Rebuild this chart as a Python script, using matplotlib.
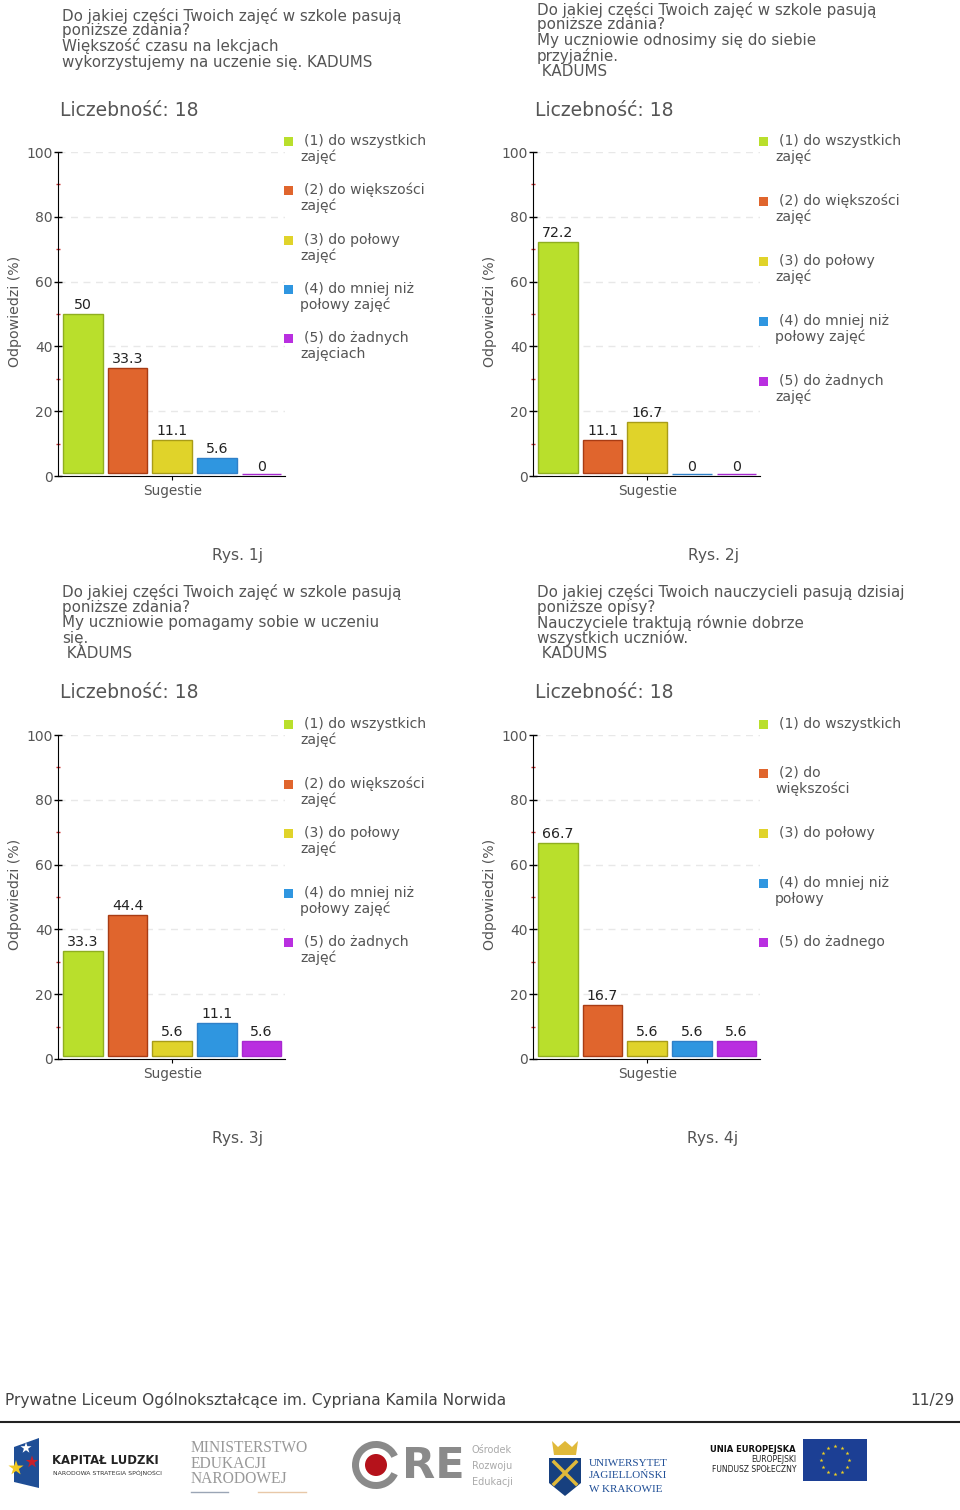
import math
import matplotlib
matplotlib.use('Agg')
import matplotlib.pyplot as plt
from matplotlib.patches import Rectangle, Circle, Polygon, Wedge

W, H = 960, 1510

categories = ['(1)', '(2)', '(3)', '(4)', '(5)']
values_1 = [50, 33.3, 11.1, 5.6, 0]
values_2 = [72.2, 11.1, 16.7, 0, 0]
values_3 = [33.3, 44.4, 5.6, 11.1, 5.6]
values_4 = [66.7, 16.7, 5.6, 5.6, 5.6]
labels_1 = ['50', '33.3', '11.1', '5.6', '0']
labels_2 = ['72.2', '11.1', '16.7', '0', '0']
labels_3 = ['33.3', '44.4', '5.6', '11.1', '5.6']
labels_4 = ['66.7', '16.7', '5.6', '5.6', '5.6']

titles_1 = ['Do jakiej części Twoich zajęć w szkole pasują', 'poniższe zdania?',
            'Większość czasu na lekcjach', 'wykorzystujemy na uczenie się. KADUMS']
titles_2 = ['Do jakiej części Twoich zajęć w szkole pasują', 'poniższe zdania?',
            'My uczniowie odnosimy się do siebie', 'przyjaźnie.', ' KADUMS']
titles_3 = ['Do jakiej części Twoich zajęć w szkole pasują', 'poniższe zdania?',
            'My uczniowie pomagamy sobie w uczeniu', 'się.', ' KADUMS']
titles_4 = ['Do jakiej części Twoich nauczycieli pasują dzisiaj', 'poniższe opisy?',
            'Nauczyciele traktują równie dobrze', 'wszystkich uczniów.', ' KADUMS']

legend_1 = [('(1) do wszystkich', 'zajęć'), ('(2) do większości', 'zajęć'), ('(3) do połowy', 'zajęć'),
            ('(4) do mniej niż', 'połowy zajęć'), ('(5) do żadnych', 'zajęciach')]
legend_2 = [('(1) do wszystkich', 'zajęć'), ('(2) do większości', 'zajęć'), ('(3) do połowy', 'zajęć'),
            ('(4) do mniej niż', 'połowy zajęć'), ('(5) do żadnych', 'zajęć')]
legend_3 = legend_2
legend_4 = [('(1) do wszystkich', ''), ('(2) do', 'większości'), ('(3) do połowy', ''),
            ('(4) do mniej niż', 'połowy'), ('(5) do żadnego', '')]

colors = ['#b9df2c', '#e0652d', '#e0d32a', '#2f96e0', '#b92fe0']
edges = ['#8fae20', '#a83c14', '#a89c18', '#2f80c8', '#a828d0']
GREY = '#555555'
GAP = 0.8  # bars float slightly above the axis in the original

fig = plt.figure(figsize=(W / 100, H / 100), dpi=100)
plt.rcParams['font.family'] = ['DejaVu Sans']

# overlay in pixel coordinates for everything outside the plots
page = fig.add_axes([0, 0, 1, 1])
page.set_xlim(0, W)
page.set_ylim(H, 0)
page.axis('off')


def panel(dx, dy, values, labels, title, legend, legend_y, caption, title_top=15.5):
    left, right, top, bottom = 58 + dx, 285 + dx, 152 + dy, 476 + dy
    ax = fig.add_axes([left / W, 1 - bottom / H, (right - left) / W, (bottom - top) / H])
    ax.patch.set_alpha(0)
    x = range(len(values))
    heights = [v - GAP if v > 0 else 0 for v in values]
    bases = [GAP if v > 0 else 0.6 for v in values]
    ax.bar(x, heights, bottom=bases, width=0.89, color=colors, edgecolor=edges, linewidth=1)
    for i, v in enumerate(values):
        ax.annotate(labels[i], (i, v), xytext=(0, 1.5), textcoords='offset points', ha='center', va='bottom',
                    fontsize=10.2, color='#222222')
    ax.set_xlim(-0.56, 4.53)
    ax.set_ylim(0, 100)
    ax.set_yticks([0, 20, 40, 60, 80, 100])
    ax.set_yticks([10, 30, 50, 70, 90], minor=True)
    ax.tick_params(axis='y', which='major', length=6, width=1, direction='inout', labelsize=10, labelcolor=GREY, pad=1)
    ax.tick_params(axis='y', which='minor', length=3, width=1, color='#cc3333', direction='inout')
    ax.set_xticks([2])
    ax.set_xticklabels(['Sugestie'], fontsize=9.8, color=GREY)
    ax.tick_params(axis='x', length=3, pad=3)
    ax.grid(axis='y', color='#e8e8e8', linestyle=(0, (5, 4)), linewidth=1)
    ax.set_axisbelow(True)
    ax.spines['top'].set_visible(False)
    ax.spines['right'].set_visible(False)
    ax.set_ylabel('Odpowiedzi (%)', fontsize=10.2, color=GREY)
    ax.yaxis.set_label_coords((22 + dx - left) / (right - left), 0.508)

    for i, line in enumerate(title):
        page.text(62 + dx, title_top + dy + i * 15.5, line, fontsize=10.9, color=GREY, va='center', ha='left')
    page.text(60 + dx, 110 + dy, 'Liczebność: 18', fontsize=13.5, color=GREY, va='center', ha='left')

    for i, (first, second) in enumerate(legend):
        y = legend_y[i] + dy
        page.add_patch(Rectangle((284 + dx, y - 4), 9, 9, color=colors[i], lw=0))
        page.text(304 + dx, y, first, fontsize=10.1, color=GREY, va='center', ha='left')
        if second:
            page.text(300 + dx, y + 16, second, fontsize=10.1, color=GREY, va='center', ha='left')
    page.text(238 + dx, 555.5 + dy, caption, fontsize=11.2, color=GREY, va='center', ha='center')


panel(0, 0, values_1, labels_1, titles_1, legend_1, [141, 190, 240, 289, 338], 'Rys. 1j')
panel(475, 0, values_2, labels_2, titles_2, legend_2, [141, 201, 261, 321, 381], 'Rys. 2j', title_top=9.5)
panel(0, 583, values_3, labels_3, titles_3, legend_3, [141, 201, 250, 310, 359], 'Rys. 3j', title_top=9)
panel(475, 583, values_4, labels_4, titles_4, legend_4, [141, 190, 250, 300, 359], 'Rys. 4j', title_top=9)

# footer
page.text(5, 1400, 'Prywatne Liceum Ogólnokształcące im. Cypriana Kamila Norwida', fontsize=11.1, color='#444444',
          va='center', ha='left')
page.text(955, 1400, '11/29', fontsize=11.1, color='#444444', va='center', ha='right')
page.plot([0, 960], [1422, 1422], color='#222222', lw=1.5)

# logos, only roughly
page.add_patch(Polygon([(14, 1447), (39, 1438), (39, 1488), (14, 1482)], color='#1f4e96', lw=0))
page.scatter([16, 32, 26], [1468, 1462, 1448], s=[130, 90, 70], marker='*', color=['#f2c81f', '#c8202a', '#ffffff'], lw=0)
page.text(52, 1461, 'KAPITAŁ LUDZKI', fontsize=8.4, fontweight='bold', color='#222222', va='center')
page.text(53, 1473, 'NARODOWA STRATEGIA SPÓJNOŚCI', fontsize=4.4, color='#333333', va='center')
for i, line in enumerate(['MINISTERSTWO', 'EDUKACJI', 'NARODOWEJ']):
    page.text(191, 1448 + i * 15.5, line, fontsize=11.2, family='Liberation Serif', color='#999999', va='center')
page.plot([191, 228], [1492, 1492], color='#9aa5b5', lw=1)
page.plot([258, 306], [1492, 1492], color='#e8c8a8', lw=1)
page.add_patch(Wedge((376, 1465), 24, 25, 335, width=7, color='#8a8a8a', lw=0))
page.add_patch(Circle((376, 1465), 11, color='#b5121b', lw=0))
page.text(402, 1466, 'RE', fontsize=31, fontweight='bold', color='#8a8a8a', va='center', ha='left')
for i, line in enumerate(['Ośrodek', 'Rozwoju', 'Edukacji']):
    page.text(472, 1450 + i * 16, line, fontsize=7, color='#aaaaaa', va='center')
page.add_patch(Polygon([(549, 1458), (581, 1458), (581, 1483), (565, 1496), (549, 1483)], color='#17407f', lw=0))
page.add_patch(Polygon([(552, 1441), (558, 1447), (565, 1441), (572, 1447), (578, 1441), (576, 1455), (554, 1455)],
                       color='#e0b93a', lw=0))
page.plot([554, 576], [1462, 1484], color='#e0b93a', lw=2.5)
page.plot([576, 554], [1462, 1484], color='#e0b93a', lw=2.5)
for i, line in enumerate(['UNIWERSYTET', 'JAGIELLOŃSKI', 'W KRAKOWIE']):
    page.text(589, 1463 + i * 13, line, fontsize=8, family='Liberation Serif', color='#1f4e96', va='center')
page.text(796, 1449, 'UNIA EUROPEJSKA', fontsize=6, fontweight='bold', color='#111111', va='center', ha='right')
page.text(796, 1460, 'EUROPEJSKI', fontsize=5.5, color='#222222', va='center', ha='right')
page.text(796, 1470, 'FUNDUSZ SPOŁECZNY', fontsize=5.5, color='#222222', va='center', ha='right')
page.add_patch(Rectangle((803, 1439), 64, 42, color='#1c3f94', lw=0))
star_x = [835 + 14 * math.cos(math.radians(a)) for a in range(0, 360, 30)]
star_y = [1460 + 14 * math.sin(math.radians(a)) for a in range(0, 360, 30)]
page.scatter(star_x, star_y, s=9, marker='*', color='#f2d21f', lw=0)

fig.savefig('out.png', dpi=100)
